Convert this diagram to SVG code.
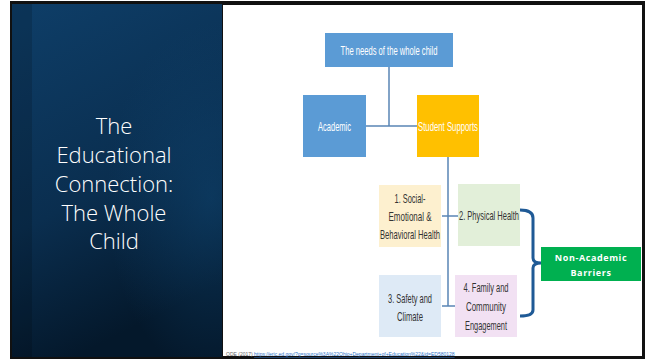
<svg xmlns="http://www.w3.org/2000/svg" width="647" height="360" viewBox="0 0 647 360">
<defs>
<linearGradient id="bg" x1="0" y1="0" x2="0.3" y2="1">
<stop offset="0" stop-color="#0E3E68"/>
<stop offset="0.6" stop-color="#0A2E4F"/>
<stop offset="1" stop-color="#04182B"/>
</linearGradient>
<radialGradient id="arc" cx="0.95" cy="0.55" r="0.5">
<stop offset="0" stop-color="#0F4470" stop-opacity="0.6"/>
<stop offset="1" stop-color="#0F4470" stop-opacity="0"/>
</radialGradient>
<style>
.box{stroke:none}
.t{font-family:"Liberation Sans",Arial,sans-serif;font-size:13.5px;fill:#333333;text-anchor:middle}
.w{fill:#ffffff}
.title{font-family:"Open Sans","Noto Sans",sans-serif;font-weight:300;font-size:22px;fill:#ffffff;text-anchor:middle}
.ln{stroke:#5A85B5;stroke-width:1.5;fill:none}
</style>
</defs>
<rect width="647" height="360" fill="#ffffff"/>
<rect x="10" y="1" width="635" height="358" fill="#111111"/>
<g id="left-panel">
<rect x="12" y="4" width="210" height="353" fill="url(#bg)"/>
<rect x="12" y="4" width="210" height="353" fill="url(#arc)"/>
<rect x="12" y="4" width="20" height="353" fill="#000000" opacity="0.15"/>
<text class="title" x="114" y="134">The</text>
<text class="title" x="114" y="163">Educational</text>
<text class="title" x="114" y="192">Connection:</text>
<text class="title" x="114" y="221">The Whole</text>
<text class="title" x="114" y="249">Child</text>
</g>
<rect x="223" y="5" width="419" height="351" fill="#ffffff"/>
<g id="connectors">
<path class="ln" d="M389 67 V126 M366 126 H417 M448 157 V306 M442 216 H459 M442 306 H455"/>
<path d="M520 210 Q533 210 533 218 V258 Q533 263 541 263 Q533 263 533 268 V310 Q533 316 520 316" fill="none" stroke="#1F5A96" stroke-width="3"/>
</g>
<g id="needs">
<rect class="box" x="325" y="33" width="128" height="34" fill="#5B9BD5"/>
<text class="t w" x="389" y="54.5" textLength="97" lengthAdjust="spacingAndGlyphs">The needs of the whole child</text>
</g>
<g id="academic">
<rect class="box" x="303" y="95" width="63" height="62" fill="#5B9BD5"/>
<text class="t w" x="334.5" y="131" textLength="33" lengthAdjust="spacingAndGlyphs">Academic</text>
</g>
<g id="student-supports">
<rect class="box" x="417" y="95" width="62" height="62" fill="#FFC000"/>
<text class="t w" x="448" y="131" textLength="60" lengthAdjust="spacingAndGlyphs">Student Supports</text>
</g>
<g id="social-emotional">
<rect class="box" x="379" y="185" width="62" height="62" fill="#FDF0CF"/>
<text class="t" x="410" y="203" textLength="31" lengthAdjust="spacingAndGlyphs">1. Social-</text>
<text class="t" x="410" y="221" textLength="43" lengthAdjust="spacingAndGlyphs">Emotional &amp;</text>
<text class="t" x="410" y="239" textLength="60" lengthAdjust="spacingAndGlyphs">Behavioral Health</text>
</g>
<g id="physical-health">
<rect class="box" x="458" y="184" width="62" height="62" fill="#E2EFD9"/>
<text class="t" x="489" y="220" textLength="60" lengthAdjust="spacingAndGlyphs">2. Physical Health</text>
</g>
<g id="safety">
<rect class="box" x="379" y="275" width="62" height="62" fill="#DEEAF6"/>
<text class="t" x="410" y="303" textLength="44" lengthAdjust="spacingAndGlyphs">3. Safety and</text>
<text class="t" x="410" y="321" textLength="26" lengthAdjust="spacingAndGlyphs">Climate</text>
</g>
<g id="family">
<rect class="box" x="455" y="275" width="62" height="62" fill="#F2E1F3"/>
<text class="t" x="486" y="292" textLength="45" lengthAdjust="spacingAndGlyphs">4. Family and</text>
<text class="t" x="486" y="311" textLength="40" lengthAdjust="spacingAndGlyphs">Community</text>
<text class="t" x="486" y="330" textLength="42" lengthAdjust="spacingAndGlyphs">Engagement</text>
</g>
<g id="non-academic">
<rect class="box" x="541" y="247" width="100" height="34" fill="#00B050"/>
<text x="591" y="260.5" font-family="'Open Sans','Liberation Sans',sans-serif" font-size="9" font-weight="bold" fill="#ffffff" text-anchor="middle" letter-spacing="0.6">Non-Academic</text>
<text x="591" y="275.5" font-family="'Open Sans','Liberation Sans',sans-serif" font-size="9" font-weight="bold" fill="#ffffff" text-anchor="middle" letter-spacing="0.6">Barriers</text>
</g>
<g id="citation">
<text x="226" y="356" font-family="'Liberation Sans',Arial,sans-serif" font-size="5" fill="#666666">ODE (2017) <tspan fill="#2E74C8" text-decoration="underline">https://eric.ed.gov/?q=source%3A%22Ohio+Department+of+Education%22&amp;id=ED580128</tspan></text>
</g>
</svg>
